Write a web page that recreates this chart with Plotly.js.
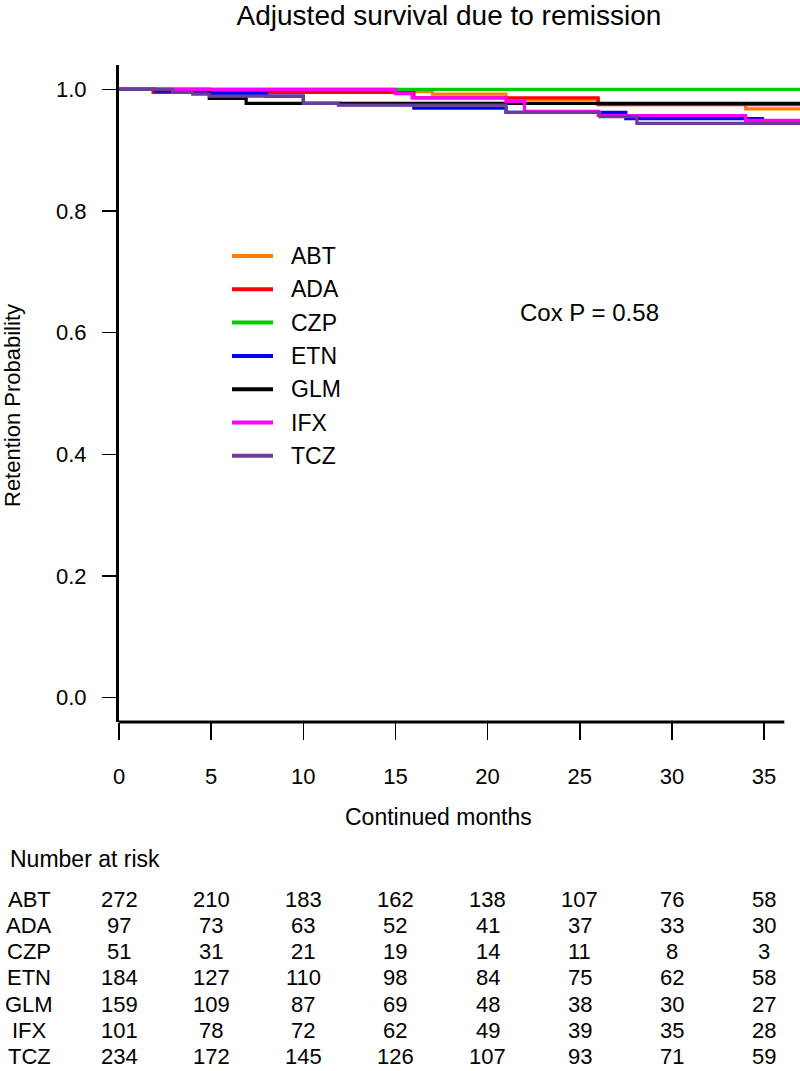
<!DOCTYPE html>
<html>
<head>
<meta charset="utf-8">
<script src="https://cdn.plot.ly/plotly-3.0.1.min.js"></script>
<style>html,body{margin:0;padding:0;background:#fff;}#chart{width:800px;height:1071px;}</style>
</head>
<body>
<div id="chart"></div>
<script>
// ---------- data ----------
const groups = ['ABT', 'ADA', 'CZP', 'ETN', 'GLM', 'IFX', 'TCZ'];
const colors = ['#FF7F00', '#FF0000', '#00CC00', '#0000FF', '#000000', '#FF00FF', '#6A3D9A'];

// step curves (time in months, retention probability)
const abtTime = [0, 2, 17, 21, 26, 34, 37];
const abtSurv = [1.0, 0.996, 0.992, 0.983, 0.976, 0.968, 0.968];
const adaTime = [0, 1.85, 16, 26, 37];
const adaSurv = [1.0, 0.995, 0.986, 0.975, 0.975];
const czpTime = [0, 37];
const czpSurv = [1.0, 1.0];
const etnTime = [0, 2, 5, 8, 10, 12, 16, 21, 27.5, 35];
const etnSurv = [1.0, 0.997, 0.993, 0.989, 0.977, 0.975, 0.969, 0.962, 0.952, 0.952];
const glmTime = [0, 4.9, 6.9, 37];
const glmSurv = [1.0, 0.985, 0.977, 0.976];
const ifxTime = [0, 15, 15.9, 21, 22, 26, 34, 37];
const ifxSurv = [1.0, 0.993, 0.986, 0.980, 0.964, 0.957, 0.949, 0.949];
const tczTime = [0, 2.9, 4, 4.9, 10, 11.9, 21, 26.1, 28.1, 37];
const tczSurv = [1.0, 0.995, 0.992, 0.989, 0.977, 0.974, 0.962, 0.955, 0.944, 0.944];

// number at risk
const riskMonths = [0, 5, 10, 15, 20, 25, 30, 35];
const riskABT = [272, 210, 183, 162, 138, 107, 76, 58];
const riskADA = [97, 73, 63, 52, 41, 37, 33, 30];
const riskCZP = [51, 31, 21, 19, 14, 11, 8, 3];
const riskETN = [184, 127, 110, 98, 84, 75, 62, 58];
const riskGLM = [159, 109, 87, 69, 48, 38, 30, 27];
const riskIFX = [101, 78, 72, 62, 49, 39, 35, 28];
const riskTCZ = [234, 172, 145, 126, 107, 93, 71, 59];

const xTicks = [0, 5, 10, 15, 20, 25, 30, 35];
const yTicks = [0.0, 0.2, 0.4, 0.6, 0.8, 1.0];
const titleText = 'Adjusted survival due to remission';
const xTitle = 'Continued months';
const yTitle = 'Retention Probability';
const coxText = 'Cox P = 0.58';
const riskTitle = 'Number at risk';

// ---------- layout helpers ----------
const W = 800, H = 1071;
const PL = 119, PR = 800, PT = 65, PB = 722;
const px2x = p => (p - PL) / (PR - PL);
const py2y = p => (PB - p) / (PB - PT);
const FONT = 'Liberation Sans, Arial, Helvetica, sans-serif';

const curveTimes = [abtTime, adaTime, czpTime, etnTime, glmTime, ifxTime, tczTime];
const curveSurv = [abtSurv, adaSurv, czpSurv, etnSurv, glmSurv, ifxSurv, tczSurv];
const riskRows = [riskABT, riskADA, riskCZP, riskETN, riskGLM, riskIFX, riskTCZ];

const traces = groups.map((g, i) => ({
  type: 'scatter', mode: 'lines', name: g,
  x: curveTimes[i], y: curveSurv[i],
  line: {shape: 'hv', color: colors[i], width: 3.2},
  showlegend: false, hoverinfo: 'skip'
}));

const shapes = [];
const annotations = [];

// x axis line (stops short of the plot edge, as in the reference)
shapes.push({type: 'line', xref: 'x', yref: 'paper', x0: 0, x1: 36.1, y0: 0, y1: 0,
  line: {color: '#000', width: 3}});

// custom legend
const legRow0 = 256, legStep = 33.3;
groups.forEach((g, i) => {
  const yy = py2y(legRow0 + i * legStep);
  shapes.push({type: 'line', xref: 'paper', yref: 'paper',
    x0: px2x(232), x1: px2x(273), y0: yy, y1: yy,
    line: {color: colors[i], width: 4}});
  annotations.push({xref: 'paper', yref: 'paper', x: px2x(289), y: yy,
    xanchor: 'left', yanchor: 'middle', showarrow: false, text: g,
    font: {family: FONT, size: 23, color: '#000'}});
});

// Cox P
annotations.push({xref: 'paper', yref: 'paper', x: px2x(589), y: py2y(312),
  xanchor: 'center', yanchor: 'middle', showarrow: false, text: coxText,
  font: {family: FONT, size: 24, color: '#000'}});

// axis titles
annotations.push({xref: 'paper', yref: 'paper', x: px2x(438), y: py2y(817),
  xanchor: 'center', yanchor: 'middle', showarrow: false, text: xTitle,
  font: {family: FONT, size: 23, color: '#000'}});
annotations.push({xref: 'paper', yref: 'paper', x: px2x(12), y: py2y(406),
  xanchor: 'center', yanchor: 'middle', showarrow: false, text: yTitle, textangle: -90,
  font: {family: FONT, size: 22, color: '#000'}});

// number at risk table
annotations.push({xref: 'paper', yref: 'paper', x: px2x(8), y: py2y(859),
  xanchor: 'left', yanchor: 'middle', showarrow: false, text: riskTitle,
  font: {family: FONT, size: 23, color: '#000'}});
const rowY0 = 899, rowStep = 26.3;
groups.forEach((g, i) => {
  const yy = py2y(rowY0 + i * rowStep);
  annotations.push({xref: 'paper', yref: 'paper', x: px2x(29), y: yy,
    xanchor: 'center', yanchor: 'middle', showarrow: false, text: g, borderpad: 0,
    font: {family: FONT, size: 22, color: '#000'}});
  riskRows[i].forEach((v, j) => {
    annotations.push({xref: 'x', yref: 'paper', x: riskMonths[j], y: yy,
      xanchor: 'center', yanchor: 'middle', showarrow: false, text: String(v), borderpad: 0,
      font: {family: FONT, size: 22, color: '#000'}});
  });
});

const layout = {
  width: W, height: H,
  paper_bgcolor: '#fff', plot_bgcolor: '#fff',
  margin: {l: PL, r: W - PR, t: PT, b: H - PB, pad: 0},
  showlegend: false,
  title: {text: titleText, x: 449 / W, xref: 'container', xanchor: 'center',
    y: 1 - 15 / H, yref: 'container', yanchor: 'middle',
    font: {family: FONT, size: 28, color: '#000'}},
  xaxis: {range: [0, (PR - PL) / 18.43], tickvals: xTicks, ticktext: xTicks.map(String),
    showgrid: false, zeroline: false, showline: false,
    ticks: 'outside', ticklen: 17, tickwidth: 1.5, tickcolor: '#000',
    ticklabelstandoff: 18,
    tickfont: {family: FONT, size: 22, color: '#000'}},
  yaxis: {range: [-0.04, 1.04], tickvals: yTicks, ticktext: yTicks.map(v => v.toFixed(1)),
    showgrid: false, zeroline: false, showline: true, linewidth: 3, linecolor: '#000',
    ticks: 'outside', ticklen: 14, tickwidth: 1.5, tickcolor: '#000',
    ticklabelstandoff: 11,
    tickfont: {family: FONT, size: 22, color: '#000'}},
  shapes: shapes,
  annotations: annotations
};

Plotly.newPlot('chart', traces, layout, {displayModeBar: false, staticPlot: true});
</script>
</body>
</html>
